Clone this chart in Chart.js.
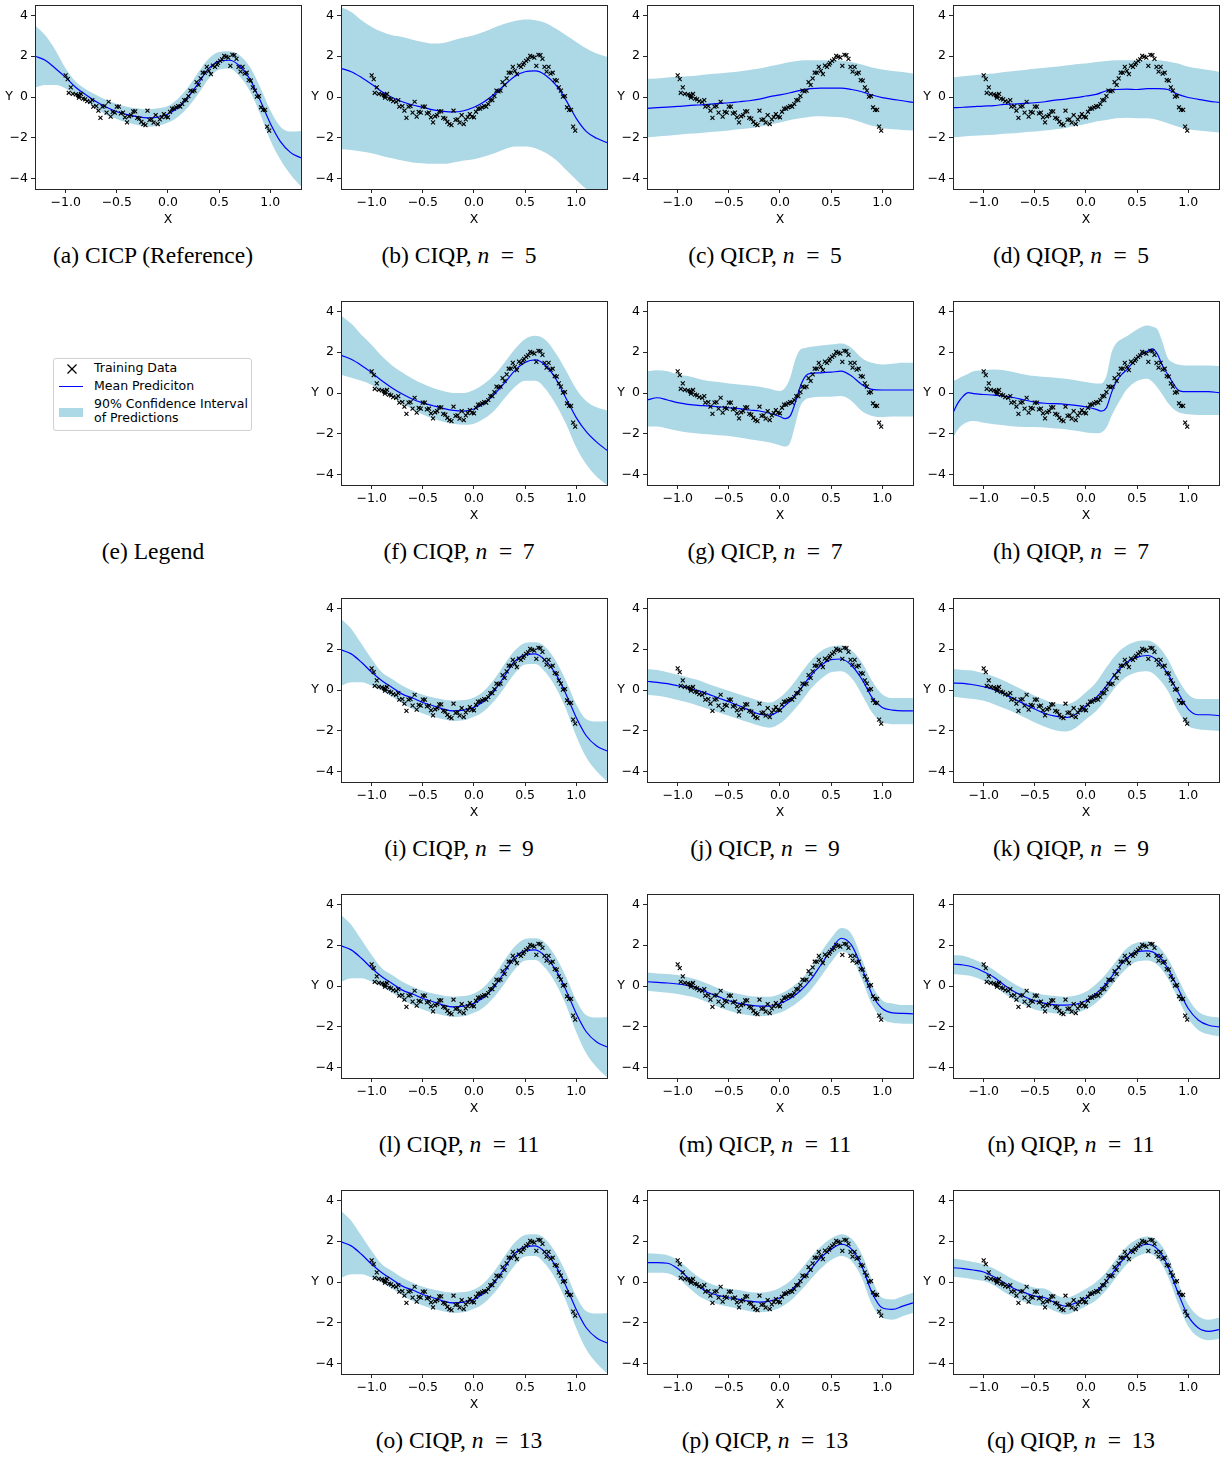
<!DOCTYPE html>
<html>
<head>
<meta charset="utf-8">
<script src="https://cdn.jsdelivr.net/npm/chart.js@4.4.0/dist/chart.umd.min.js"></script>
<style>
  body { margin: 0; background: #fff; }
  #fig { position: relative; width: 1225px; height: 1459px; overflow: hidden; }
  .panel { position: absolute; }
  .cap { position: absolute; width: 306px; text-align: center; color: #000;
         font-family: "Liberation Serif", "Times New Roman", serif; font-size: 23.5px; line-height: 26px; }
  .cap i { padding-right: 1px; }
  .legend { position: absolute; left: 53px; top: 358px; width: 197px; height: 71px;
            border: 1px solid #d0d0d0; border-radius: 3px; background: #fff; }
  .lg { position: absolute; font-family: "DejaVu Sans", sans-serif; font-size: 12.5px; line-height: 14px; color: #000; white-space: nowrap; }
</style>
</head>
<body>
<div id="fig">
  <div class="legend">
    <svg style="position:absolute;left:12px;top:4px" width="12" height="12">
      <line x1="1.5" y1="1.5" x2="10.5" y2="10.5" stroke="#000" stroke-width="1.2"/>
      <line x1="10.5" y1="1.5" x2="1.5" y2="10.5" stroke="#000" stroke-width="1.2"/>
    </svg>
    <div style="position:absolute;left:5px;top:27px;width:24px;height:0;border-top:1.3px solid #0000ff"></div>
    <div style="position:absolute;left:5px;top:49px;width:24px;height:9px;background:#add8e6"></div>
    <div class="lg" style="left:40px;top:2px">Training Data</div>
    <div class="lg" style="left:40px;top:20px">Mean Prediciton</div>
    <div class="lg" style="left:40px;top:38px">90% Confidence Interval</div>
    <div class="lg" style="left:40px;top:52px">of Predictions</div>
  </div>
</div>
<script>
// training data (same in every panel)
const TRAIN_X = [-1.00,-0.98,-0.95,-0.97,-0.93,-0.90,-0.88,-0.87,-0.85,-0.87,-0.83,-0.81,-0.79,-0.76,-0.74,-0.73,-0.70,-0.68,-0.66,-0.64,
  -0.62,-0.60,-0.58,-0.56,-0.54,-0.52,-0.50,-0.48,-0.46,-0.44,-0.42,-0.40,-0.38,-0.36,-0.34,-0.32,-0.30,-0.28,-0.26,-0.24,
  -0.22,-0.20,-0.18,-0.16,-0.14,-0.12,-0.10,-0.08,-0.06,-0.04,-0.02,0.00,0.02,0.04,0.06,0.08,0.10,0.12,0.14,0.16,
  0.18,0.20,0.22,0.24,0.26,0.28,0.30,0.32,0.34,0.36,0.38,0.40,0.42,0.44,0.46,0.48,0.49,0.51,0.53,0.55,
  0.57,0.59,0.61,0.63,0.65,0.67,0.69,0.71,0.73,0.75,0.77,0.79,0.81,0.83,0.85,0.87,0.89,0.91,0.93,0.95,0.97,0.99];
const TRAIN_Y = [1.06,0.88,0.47,0.21,0.16,0.13,0.10,0.05,0.15,-0.03,-0.08,-0.11,-0.20,-0.24,-0.15,-0.47,-0.44,-0.67,-1.02,-0.47,
  -0.44,-0.76,-0.23,-0.96,-0.73,-0.76,-0.47,-0.47,-0.80,-0.76,-0.99,-1.24,-0.94,-0.88,-0.70,-0.70,-1.02,-1.06,-1.22,-1.32,
  -1.37,-0.67,-1.12,-1.09,-1.25,-0.88,-1.32,-1.09,-0.98,-0.83,-0.96,-0.99,-0.72,-0.57,-0.57,-0.50,-0.44,-0.47,-0.34,-0.15,
  -0.15,0.05,0.31,0.28,0.31,0.73,0.59,0.91,1.19,1.19,1.48,1.28,1.12,1.54,1.48,1.59,1.67,1.77,1.84,2.02,
  1.97,1.93,1.53,2.07,2.05,1.87,1.48,1.24,1.48,1.15,1.19,0.83,0.80,0.47,0.31,0.02,0.05,-0.50,-0.63,-0.63,-1.45,-1.64];

const X_TICKS = [-1.0, -0.5, 0.0, 0.5, 1.0];
const Y_TICKS = [-4, -2, 0, 2, 4];

// prediction grid
const GX = [-1.3,-1.2,-1.1,-1.0,-0.9,-0.8,-0.7,-0.6,-0.5,-0.4,-0.3,-0.2,-0.1,0.0,0.1,0.2,0.3,0.4,0.5,0.6,0.7,0.8,0.9,1.0,1.1,1.2,1.3];

// (a) CICP
const MEAN_A = [2.00,1.80,1.40,0.96,0.47,0.10,-0.23,-0.50,-0.72,-0.86,-0.96,-1.02,-0.99,-0.83,-0.50,0.02,0.70,1.40,1.76,1.80,1.53,0.89,-0.15,-1.28,-2.18,-2.72,-2.98];
const HI_A = [3.51,3.02,2.29,1.40,0.75,0.37,0.10,-0.15,-0.34,-0.47,-0.55,-0.60,-0.55,-0.44,-0.07,0.50,1.24,1.89,2.21,2.24,2.05,1.48,0.50,-0.63,-1.45,-1.69,-1.66];
const LO_A = [0.47,0.59,0.59,0.42,0.10,-0.23,-0.55,-0.88,-1.07,-1.25,-1.37,-1.45,-1.41,-1.25,-0.96,-0.47,0.18,0.91,1.35,1.40,1.02,0.31,-0.80,-2.10,-3.07,-3.80,-4.37];
// (b) CIQP n=5
const MEAN_B = [1.40,1.24,0.96,0.63,0.26,-0.02,-0.23,-0.39,-0.50,-0.63,-0.70,-0.73,-0.67,-0.50,-0.23,0.15,0.59,1.02,1.24,1.28,1.07,0.59,-0.15,-1.04,-1.69,-2.02,-2.23];
const HI_B = [4.41,4.16,3.76,3.43,3.19,3.02,2.94,2.81,2.70,2.62,2.65,2.78,2.91,3.02,3.19,3.40,3.59,3.72,3.79,3.76,3.63,3.35,3.02,2.70,2.37,2.13,1.97];
const LO_B = [-2.55,-2.59,-2.67,-2.75,-2.88,-2.99,-3.11,-3.20,-3.24,-3.27,-3.27,-3.20,-3.11,-3.04,-2.91,-2.75,-2.55,-2.42,-2.42,-2.50,-2.72,-3.07,-3.56,-4.05,-4.50,-4.70,-4.86];
// (c) QICP n=5
const MEAN_C = [-0.55,-0.52,-0.49,-0.46,-0.42,-0.39,-0.36,-0.31,-0.28,-0.23,-0.18,-0.10,0.02,0.11,0.21,0.33,0.41,0.44,0.44,0.44,0.37,0.26,0.10,-0.03,-0.11,-0.18,-0.26];
const HI_C = [0.89,0.91,0.96,0.99,1.02,1.06,1.12,1.15,1.20,1.25,1.32,1.40,1.51,1.61,1.71,1.79,1.80,1.80,1.80,1.79,1.71,1.59,1.45,1.35,1.28,1.22,1.15];
const LO_C = [-1.97,-1.93,-1.90,-1.85,-1.80,-1.77,-1.72,-1.69,-1.64,-1.58,-1.53,-1.45,-1.35,-1.25,-1.12,-1.04,-0.96,-0.94,-0.96,-0.99,-1.09,-1.25,-1.41,-1.53,-1.58,-1.61,-1.64];
// (d) QIQP n=5
const MEAN_D = [-0.52,-0.50,-0.47,-0.44,-0.42,-0.36,-0.34,-0.31,-0.28,-0.23,-0.15,-0.10,-0.03,0.05,0.13,0.31,0.37,0.39,0.37,0.41,0.41,0.37,0.13,-0.02,-0.11,-0.20,-0.26];
const HI_D = [0.96,1.02,1.07,1.12,1.15,1.22,1.28,1.32,1.38,1.43,1.48,1.54,1.61,1.64,1.71,1.77,1.80,1.80,1.80,1.80,1.80,1.74,1.64,1.48,1.40,1.32,1.24];
const LO_D = [-1.97,-1.93,-1.90,-1.87,-1.85,-1.80,-1.77,-1.72,-1.69,-1.64,-1.58,-1.51,-1.41,-1.32,-1.20,-1.12,-1.04,-1.01,-1.04,-1.04,-1.12,-1.28,-1.45,-1.58,-1.64,-1.69,-1.74];
// (f) CIQP n=7
const MEAN_F = [1.85,1.65,1.35,1.00,0.60,0.25,-0.05,-0.30,-0.48,-0.62,-0.75,-0.85,-0.88,-0.78,-0.50,-0.05,0.50,1.10,1.50,1.62,1.35,0.70,-0.25,-1.20,-1.90,-2.40,-2.80];
const HI_F = [3.80,3.40,2.85,2.35,1.80,1.35,1.00,0.70,0.45,0.25,0.10,0.00,0.00,0.15,0.45,0.90,1.50,2.15,2.65,2.80,2.60,1.95,1.10,0.20,-0.40,-0.70,-0.85];
const LO_F = [0.90,0.75,0.60,0.40,0.10,-0.20,-0.50,-0.80,-1.05,-1.25,-1.40,-1.50,-1.55,-1.50,-1.25,-0.85,-0.25,0.30,0.60,0.60,0.20,-0.55,-1.50,-2.65,-3.50,-4.10,-4.50];
// (g) QICP n=7 (own grid)
const GX_G = [-1.3,-1.2,-1.1,-1.0,-0.9,-0.8,-0.7,-0.6,-0.5,-0.4,-0.3,-0.2,-0.1,0.0,0.05,0.1,0.15,0.2,0.25,0.3,0.4,0.5,0.6,0.7,0.8,0.9,1.0,1.1,1.2,1.3];
const MEAN_G = [-0.34,-0.23,-0.34,-0.47,-0.55,-0.60,-0.63,-0.67,-0.72,-0.76,-0.83,-0.88,-0.99,-1.15,-1.25,-1.12,-0.47,0.34,0.83,0.96,0.99,1.02,1.07,0.83,0.42,0.18,0.15,0.15,0.15,0.15];
const HI_G = [1.07,1.12,1.07,0.91,0.83,0.70,0.59,0.54,0.47,0.42,0.37,0.31,0.21,0.10,0.26,0.75,1.64,2.13,2.21,2.26,2.33,2.37,2.42,2.21,1.72,1.48,1.40,1.43,1.48,1.48];
const LO_G = [-1.64,-1.64,-1.74,-1.85,-1.93,-1.98,-2.02,-2.07,-2.10,-2.18,-2.26,-2.34,-2.42,-2.55,-2.62,-2.42,-1.53,-0.63,-0.31,-0.23,-0.18,-0.18,-0.15,-0.39,-0.88,-1.12,-1.17,-1.15,-1.15,-1.15];
// (h) QIQP n=7 (own grid)
const GX_H = [-1.3,-1.25,-1.2,-1.15,-1.1,-1.0,-0.9,-0.8,-0.7,-0.6,-0.5,-0.4,-0.3,-0.2,-0.1,0.0,0.1,0.15,0.2,0.25,0.3,0.35,0.4,0.5,0.6,0.65,0.7,0.75,0.8,0.85,0.9,0.95,1.0,1.1,1.2,1.3];
const MEAN_H = [-0.96,-0.47,-0.15,0.02,-0.03,-0.07,-0.10,-0.15,-0.23,-0.34,-0.44,-0.50,-0.52,-0.55,-0.60,-0.68,-0.80,-0.88,-0.72,0.02,0.59,0.91,1.15,1.72,2.05,2.16,1.89,1.32,0.91,0.50,0.15,0.07,0.07,0.07,0.07,0.02];
const HI_H = [0.59,0.70,0.83,0.95,1.07,1.12,1.15,1.12,1.02,0.91,0.83,0.78,0.75,0.70,0.63,0.54,0.47,0.47,0.83,1.97,2.46,2.65,2.78,3.11,3.30,3.25,3.11,2.46,1.72,1.50,1.40,1.36,1.35,1.35,1.35,1.32];
const LO_H = [-2.18,-1.77,-1.53,-1.40,-1.37,-1.45,-1.53,-1.58,-1.64,-1.66,-1.66,-1.69,-1.74,-1.77,-1.85,-1.93,-1.97,-1.93,-1.69,-1.12,-0.63,-0.20,0.18,0.59,0.70,0.55,0.26,-0.10,-0.47,-0.75,-0.93,-1.00,-1.04,-1.07,-1.07,-1.07];
// (i),(l),(o) CIQP n=9,11,13
const MEAN_I = [1.97,1.77,1.36,0.87,0.46,0.13,-0.20,-0.39,-0.61,-0.77,-0.93,-1.02,-0.98,-0.85,-0.52,-0.03,0.70,1.41,1.72,1.77,1.44,0.79,-0.20,-1.34,-2.25,-2.74,-2.98];
const HI_I = [3.49,3.00,2.26,1.52,0.87,0.54,0.21,-0.03,-0.23,-0.36,-0.46,-0.52,-0.49,-0.36,-0.03,0.54,1.28,1.93,2.30,2.34,2.10,1.44,0.46,-0.69,-1.43,-1.54,-1.51];
const LO_I = [0.21,0.38,0.38,0.21,-0.03,-0.33,-0.66,-0.93,-1.15,-1.31,-1.43,-1.51,-1.48,-1.31,-1.02,-0.52,0.13,0.82,1.25,1.28,0.87,0.13,-0.93,-2.25,-3.31,-3.97,-4.46];
// (j) QICP n=9
const MEAN_J = [0.43,0.38,0.31,0.21,0.10,-0.03,-0.20,-0.39,-0.57,-0.77,-0.98,-1.18,-1.23,-0.98,-0.52,0.05,0.70,1.20,1.49,1.52,1.20,0.54,-0.36,-0.85,-0.98,-1.02,-1.02];
const HI_J = [1.03,0.98,0.87,0.75,0.62,0.49,0.30,0.13,-0.03,-0.20,-0.36,-0.52,-0.61,-0.36,0.13,0.79,1.44,1.90,2.13,2.18,1.93,1.36,0.46,-0.20,-0.39,-0.39,-0.39];
const LO_J = [-0.23,-0.28,-0.36,-0.49,-0.61,-0.77,-0.93,-1.10,-1.26,-1.43,-1.59,-1.75,-1.84,-1.64,-1.18,-0.61,0.05,0.54,0.87,0.92,0.59,-0.20,-1.10,-1.59,-1.67,-1.67,-1.67];
// (k) QIQP n=9
const MEAN_K = [0.34,0.33,0.26,0.16,0.02,-0.20,-0.44,-0.69,-0.93,-1.15,-1.28,-1.34,-1.18,-0.77,-0.36,0.21,0.87,1.36,1.61,1.69,1.44,0.79,-0.11,-0.93,-1.21,-1.21,-1.25];
const HI_K = [1.03,0.98,0.95,0.82,0.66,0.46,0.21,-0.03,-0.28,-0.49,-0.66,-0.69,-0.52,-0.11,0.38,1.11,1.77,2.18,2.39,2.43,2.18,1.52,0.54,-0.20,-0.44,-0.44,-0.44];
const LO_K = [-0.33,-0.39,-0.44,-0.52,-0.69,-0.89,-1.10,-1.34,-1.59,-1.80,-1.97,-2.03,-1.84,-1.43,-1.02,-0.44,0.21,0.66,0.87,0.92,0.62,-0.03,-1.02,-1.75,-1.92,-1.97,-2.00];
// (m) QICP n=11
const MEAN_M = [0.21,0.18,0.15,0.10,0.02,-0.11,-0.33,-0.52,-0.72,-0.85,-0.93,-0.98,-0.98,-0.85,-0.61,-0.23,0.30,1.03,1.77,2.34,2.00,0.90,-0.40,-1.10,-1.31,-1.34,-1.36];
const HI_M = [0.66,0.62,0.59,0.54,0.43,0.30,0.10,-0.11,-0.28,-0.39,-0.49,-0.52,-0.52,-0.39,-0.11,0.30,0.87,1.64,2.34,2.84,2.55,1.35,0.05,-0.69,-0.85,-0.93,-0.93];
const LO_M = [-0.23,-0.28,-0.33,-0.39,-0.49,-0.61,-0.82,-1.02,-1.21,-1.34,-1.43,-1.48,-1.43,-1.31,-1.05,-0.69,-0.20,0.46,1.15,1.69,1.40,0.35,-0.90,-1.60,-1.80,-1.84,-1.84];
// (n) QIQP n=11
const MEAN_N = [1.08,1.03,0.92,0.70,0.43,0.05,-0.28,-0.52,-0.72,-0.85,-0.92,-0.93,-0.89,-0.72,-0.36,0.13,0.79,1.36,1.67,1.72,1.52,0.87,-0.11,-1.10,-1.67,-1.92,-2.00];
const HI_N = [1.52,1.48,1.31,1.08,0.79,0.43,0.10,-0.16,-0.33,-0.44,-0.49,-0.52,-0.46,-0.28,0.10,0.62,1.25,1.85,2.13,2.18,1.97,1.36,0.38,-0.61,-1.26,-1.48,-1.54];
const LO_N = [0.59,0.54,0.46,0.26,0.00,-0.36,-0.69,-0.93,-1.15,-1.26,-1.34,-1.38,-1.31,-1.15,-0.82,-0.33,0.33,0.87,1.20,1.25,1.03,0.38,-0.61,-1.59,-2.16,-2.36,-2.46];
// (p) QICP n=13
const MEAN_P = [0.95,0.95,0.92,0.66,0.21,-0.20,-0.49,-0.66,-0.77,-0.85,-0.93,-0.98,-0.93,-0.77,-0.44,0.05,0.62,1.20,1.61,1.85,1.61,0.79,-0.52,-1.26,-1.34,-1.18,-1.02];
const HI_P = [1.41,1.38,1.31,1.08,0.66,0.26,-0.03,-0.20,-0.33,-0.39,-0.49,-0.52,-0.46,-0.28,0.05,0.59,1.20,1.74,2.13,2.34,2.13,1.36,0.13,-0.77,-0.85,-0.69,-0.52];
const LO_P = [0.46,0.46,0.43,0.21,-0.23,-0.66,-0.93,-1.10,-1.21,-1.31,-1.43,-1.48,-1.43,-1.26,-0.93,-0.44,0.13,0.66,1.08,1.28,1.03,0.21,-1.10,-1.75,-1.84,-1.67,-1.51];
// (q) QIQP n=13
const MEAN_Q = [0.70,0.66,0.59,0.49,0.26,-0.03,-0.33,-0.52,-0.69,-0.77,-1.02,-1.18,-1.02,-0.77,-0.44,0.05,0.70,1.31,1.69,1.85,1.61,0.79,-0.52,-1.67,-2.25,-2.41,-2.33];
const HI_Q = [1.15,1.08,0.98,0.87,0.66,0.38,0.10,-0.11,-0.28,-0.33,-0.61,-0.77,-0.61,-0.33,0.00,0.49,1.15,1.74,2.10,2.23,2.02,1.28,0.00,-1.10,-1.67,-1.84,-1.75];
const LO_Q = [0.26,0.21,0.13,0.05,-0.16,-0.49,-0.77,-0.98,-1.15,-1.21,-1.43,-1.59,-1.43,-1.18,-0.89,-0.39,0.26,0.87,1.25,1.41,1.15,0.30,-1.02,-2.16,-2.69,-2.85,-2.79];

const EQ = '&#8201;=&#8201;';
const PANELS = [
  { row: 0, col: 0, cap: '(a) CICP (Reference)', xs: GX, mean: MEAN_A, hi: HI_A, lo: LO_A },
  { row: 0, col: 1, cap: '(b) CIQP, <i>n</i> ' + EQ + ' 5', xs: GX, mean: MEAN_B, hi: HI_B, lo: LO_B },
  { row: 0, col: 2, cap: '(c) QICP, <i>n</i> ' + EQ + ' 5', xs: GX, mean: MEAN_C, hi: HI_C, lo: LO_C },
  { row: 0, col: 3, cap: '(d) QIQP, <i>n</i> ' + EQ + ' 5', xs: GX, mean: MEAN_D, hi: HI_D, lo: LO_D },
  { row: 1, col: 1, cap: '(f) CIQP, <i>n</i> ' + EQ + ' 7', xs: GX, mean: MEAN_F, hi: HI_F, lo: LO_F },
  { row: 1, col: 2, cap: '(g) QICP, <i>n</i> ' + EQ + ' 7', xs: GX_G, mean: MEAN_G, hi: HI_G, lo: LO_G },
  { row: 1, col: 3, cap: '(h) QIQP, <i>n</i> ' + EQ + ' 7', xs: GX_H, mean: MEAN_H, hi: HI_H, lo: LO_H },
  { row: 2, col: 1, cap: '(i) CIQP, <i>n</i> ' + EQ + ' 9', xs: GX, mean: MEAN_I, hi: HI_I, lo: LO_I },
  { row: 2, col: 2, cap: '(j) QICP, <i>n</i> ' + EQ + ' 9', xs: GX, mean: MEAN_J, hi: HI_J, lo: LO_J },
  { row: 2, col: 3, cap: '(k) QIQP, <i>n</i> ' + EQ + ' 9', xs: GX, mean: MEAN_K, hi: HI_K, lo: LO_K },
  { row: 3, col: 1, cap: '(l) CIQP, <i>n</i> ' + EQ + ' 11', xs: GX, mean: MEAN_I, hi: HI_I, lo: LO_I },
  { row: 3, col: 2, cap: '(m) QICP, <i>n</i> ' + EQ + ' 11', xs: GX, mean: MEAN_M, hi: HI_M, lo: LO_M },
  { row: 3, col: 3, cap: '(n) QIQP, <i>n</i> ' + EQ + ' 11', xs: GX, mean: MEAN_N, hi: HI_N, lo: LO_N },
  { row: 4, col: 1, cap: '(o) CIQP, <i>n</i> ' + EQ + ' 13', xs: GX, mean: MEAN_I, hi: HI_I, lo: LO_I },
  { row: 4, col: 2, cap: '(p) QICP, <i>n</i> ' + EQ + ' 13', xs: GX, mean: MEAN_P, hi: HI_P, lo: LO_P },
  { row: 4, col: 3, cap: '(q) QIQP, <i>n</i> ' + EQ + ' 13', xs: GX, mean: MEAN_Q, hi: HI_Q, lo: LO_Q },
];

const COL_W = 306, ROW_H = 296.25;
const FONT = { family: 'DejaVu Sans', size: 12.5 };
const fig = document.getElementById('fig');

function fmt(v, d) { return v.toFixed(d).replace('-', '\u2212'); }
function pts(xs, ys) { return xs.map((x, i) => ({ x: x, y: ys[i] })); }

// frame + axis labels "X" and "Y"
const framePlugin = {
  id: 'frame',
  afterDraw(chart) {
    const a = chart.chartArea, ctx = chart.ctx;
    ctx.save();
    ctx.strokeStyle = '#262626';
    ctx.lineWidth = 1;
    ctx.strokeRect(Math.round(a.left) + 0.5, Math.round(a.top) + 0.5,
      Math.round(a.right - a.left), Math.round(a.bottom - a.top));
    ctx.fillStyle = '#000';
    ctx.font = FONT.size + 'px "DejaVu Sans"';
    ctx.textAlign = 'center';
    ctx.textBaseline = 'middle';
    ctx.fillText('X', (a.left + a.right) / 2, a.bottom + 31);
    ctx.fillText('Y', a.left - 26, chart.scales.y.getPixelForValue(0));
    ctx.restore();
  }
};

function addCaption(html, row, col) {
  const cap = document.createElement('div');
  cap.className = 'cap';
  cap.innerHTML = html;
  cap.style.left = (col * COL_W) + 'px';
  cap.style.top = Math.round(242 + row * ROW_H) + 'px';
  fig.appendChild(cap);
}

PANELS.forEach(p => {
  const left = p.col * COL_W, top = Math.round(p.row * ROW_H);
  const cv = document.createElement('canvas');
  cv.className = 'panel';
  cv.width = 306; cv.height = 229;
  cv.style.left = left + 'px'; cv.style.top = top + 'px';
  cv.style.width = '306px'; cv.style.height = '229px';
  fig.appendChild(cv);
  addCaption(p.cap, p.row, p.col);

  new Chart(cv.getContext('2d'), {
    type: 'line',
    data: {
      datasets: [
        { data: pts(TRAIN_X, TRAIN_Y), showLine: false, pointStyle: 'crossRot', pointRadius: 2.8,
          pointBorderWidth: 1.1, pointBorderColor: '#000', borderColor: '#000', order: 0 },
        { data: pts(p.xs, p.mean), borderColor: '#0000ff', borderWidth: 1.2, pointRadius: 0,
          cubicInterpolationMode: 'monotone', fill: false, order: 1 },
        { data: pts(p.xs, p.hi), borderWidth: 0, borderColor: 'rgba(0,0,0,0)', pointRadius: 0,
          backgroundColor: '#add8e6', fill: '+1', cubicInterpolationMode: 'monotone', order: 2 },
        { data: pts(p.xs, p.lo), borderWidth: 0, borderColor: 'rgba(0,0,0,0)', pointRadius: 0,
          fill: false, cubicInterpolationMode: 'monotone', order: 3 },
      ]
    },
    options: {
      responsive: false,
      animation: false,
      events: [],
      layout: { padding: { left: 0, top: 5, right: 5, bottom: 0 } },
      plugins: { legend: { display: false }, tooltip: { enabled: false }, title: { display: false } },
      scales: {
        x: {
          type: 'linear', min: -1.3, max: 1.3,
          grid: { drawOnChartArea: false, drawTicks: true, tickLength: 4, color: '#262626', tickWidth: 1 },
          border: { display: false },
          ticks: { font: FONT, color: '#000', padding: 2, maxRotation: 0, autoSkip: false,
                   callback: v => fmt(v, 1) },
          afterBuildTicks: s => { s.ticks = X_TICKS.map(v => ({ value: v })); },
          afterFit: s => { s.height = 40; s.paddingLeft = 0; s.paddingRight = 0; }
        },
        y: {
          type: 'linear', min: -4.5, max: 4.5,
          grid: { drawOnChartArea: false, drawTicks: true, tickLength: 4, color: '#262626', tickWidth: 1 },
          border: { display: false },
          ticks: { font: FONT, color: '#000', padding: 3, callback: v => fmt(v, 0) },
          afterBuildTicks: s => { s.ticks = Y_TICKS.map(v => ({ value: v })); },
          afterFit: s => { s.width = 35; s.paddingTop = 0; s.paddingBottom = 0; }
        }
      }
    },
    plugins: [framePlugin]
  });
});

// caption for the legend panel (e)
addCaption('(e) Legend', 1, 0);
</script>
</body>
</html>
